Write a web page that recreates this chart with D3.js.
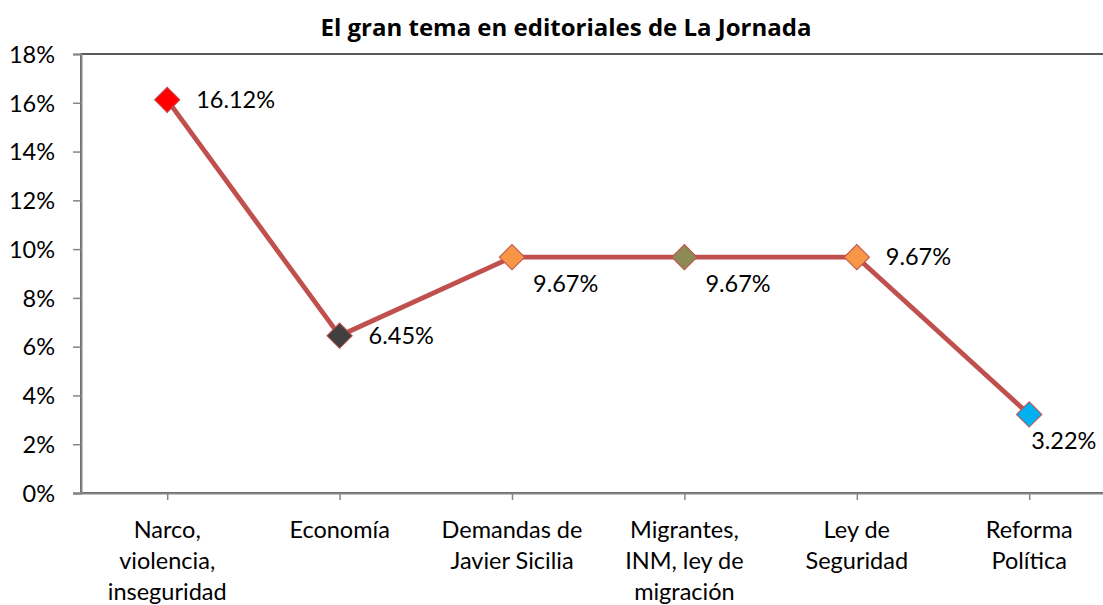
<!DOCTYPE html>
<html>
<head>
<meta charset="utf-8">
<script src="https://cdn.jsdelivr.net/npm/d3@7"></script>
<style>
  body { margin: 0; background: #fff; }
  svg { display: block; font-family: Lato, "Open Sans", sans-serif; }
</style>
</head>
<body>
<script>
// data
const categories = [
  ["Narco,", "violencia,", "inseguridad"],
  ["Economía"],
  ["Demandas de", "Javier Sicilia"],
  ["Migrantes,", "INM, ley de", "migración"],
  ["Ley de", "Seguridad"],
  ["Reforma", "Política"]
];
const values = [0.1612, 0.0645, 0.0967, 0.0967, 0.0967, 0.0322];
const valueLabels = ["16.12%", "6.45%", "9.67%", "9.67%", "9.67%", "3.22%"];
const markerColors = ["#FF0000", "#404040", "#F79646", "#8C8A55", "#F79646", "#00B0F0"];
const labelSide = ["right", "right", "below", "below", "right", "below"];
const yTicks = [0, 0.02, 0.04, 0.06, 0.08, 0.10, 0.12, 0.14, 0.16, 0.18];

const width = 1103, height = 605;
const marginTop = 54, marginLeft = 81, bottomY = 493;
const bandWidth = 172.4;
const fontSize = 23.5;

const svg = d3.select("body").append("svg")
  .attr("width", width)
  .attr("height", height)
  .attr("viewBox", [0, 0, width, height]);

const xScale = d3.scalePoint()
  .domain(d3.range(values.length))
  .range([marginLeft, marginLeft + bandWidth * values.length])
  .padding(0.5);

const yScale = d3.scaleLinear()
  .domain([0, 0.18])
  .range([bottomY, marginTop]);

// title
svg.append("text")
  .attr("x", 566)
  .attr("y", 36)
  .attr("text-anchor", "middle")
  .attr("font-size", 24)
  .attr("font-family", "'Open Sans', sans-serif")
  .attr("font-weight", "bold")
  .text("El gran tema en editoriales de La Jornada");

// plot area border (runs off the right edge like the original)
svg.append("rect")
  .attr("x", marginLeft)
  .attr("y", marginTop)
  .attr("width", bandWidth * values.length)
  .attr("height", bottomY - marginTop)
  .attr("fill", "none")
  .attr("stroke", "#000")
  .attr("stroke-width", 1.3);

// y axis
const yAxis = d3.axisLeft(yScale)
  .tickValues(yTicks)
  .tickFormat(d3.format(".0%"))
  .tickSize(8)
  .tickPadding(18);

svg.append("g")
  .attr("transform", `translate(${marginLeft},0)`)
  .call(yAxis)
  .call(g => g.select(".domain").attr("stroke", "#868686").attr("stroke-width", 2))
  .call(g => g.selectAll(".tick line").attr("stroke", "#868686").attr("stroke-width", 1.5))
  .call(g => g.selectAll(".tick text")
    .attr("font-size", fontSize)
    .attr("font-family", "Lato, 'Open Sans', sans-serif")
    .attr("fill", "#000")
    .attr("dy", "0.35em"));

// x axis
const xAxis = d3.axisBottom(xScale)
  .tickSize(7)
  .tickSizeOuter(0)
  .tickFormat("");

svg.append("g")
  .attr("transform", `translate(0,${bottomY})`)
  .call(xAxis)
  .call(g => g.select(".domain").attr("stroke", "#868686").attr("stroke-width", 2)
    .attr("d", `M${marginLeft - 8},0.5H${marginLeft + bandWidth * values.length}`))
  .call(g => g.selectAll(".tick line").attr("stroke", "#868686").attr("stroke-width", 1.5));

// category labels
svg.append("g")
  .selectAll("text")
  .data(categories)
  .join("text")
  .attr("text-anchor", "middle")
  .attr("font-size", fontSize)
  .attr("fill", "#000")
  .attr("transform", (d, i) => `translate(${xScale(i)},538)`)
  .selectAll("tspan")
  .data(d => d)
  .join("tspan")
  .attr("x", 0)
  .attr("y", (d, j) => j * 31)
  .text(d => d);

// line
const line = d3.line()
  .x((d, i) => xScale(i))
  .y(d => yScale(d));

svg.append("path")
  .datum(values)
  .attr("fill", "none")
  .attr("stroke", "#C0504D")
  .attr("stroke-width", 4.8)
  .attr("stroke-linejoin", "round")
  .attr("d", line);

// diamond markers
const diamond = d3.symbol().type(d3.symbolSquare).size(320);

svg.append("g")
  .selectAll("path")
  .data(values)
  .join("path")
  .attr("d", diamond)
  .attr("transform", (d, i) => `translate(${xScale(i)},${yScale(d)}) rotate(45)`)
  .attr("fill", (d, i) => markerColors[i])
  .attr("stroke", "#C0504D")
  .attr("stroke-width", 1);

// data labels
svg.append("g")
  .selectAll("text")
  .data(values)
  .join("text")
  .attr("font-size", fontSize)
  .attr("fill", "#000")
  .attr("x", (d, i) => labelSide[i] === "right" ? xScale(i) + 29 : xScale(i) + 21)
  .attr("y", (d, i) => labelSide[i] === "right" ? yScale(d) + 8 : yScale(d) + 35)
  .text((d, i) => valueLabels[i])
  .filter((d, i) => i === values.length - 1)
  .attr("x", (d, i) => xScale(values.length - 1) + 2);
</script>
</body>
</html>
